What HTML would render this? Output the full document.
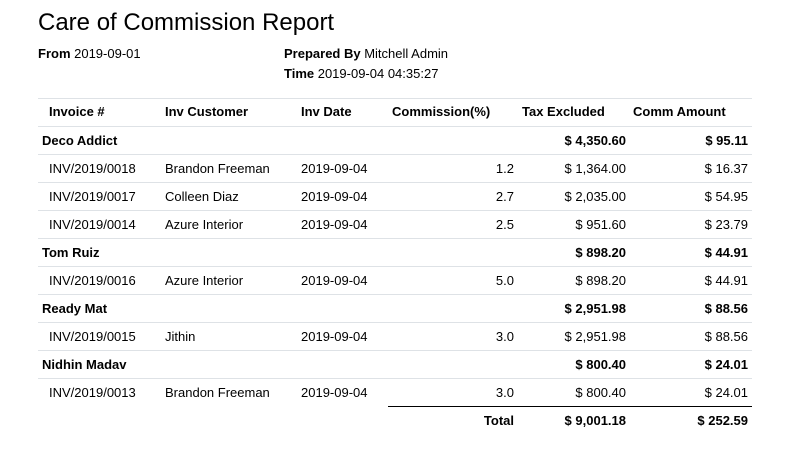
<!DOCTYPE html>
<html><head><meta charset="utf-8"><style>
body{margin:0;width:792px;height:451px;background:#fff;font-family:"Liberation Sans",Arial,sans-serif;color:#000;position:relative;overflow:hidden}
.a{position:absolute;white-space:nowrap;font-size:13px;line-height:16px}
.b{font-weight:bold}
.r{text-align:right}
.ln{position:absolute;left:38px;width:714px;height:1px;background:#dee2e6}
</style></head><body>
<div class="a" style="left:38px;top:9px;font-size:24px;line-height:28px">Care of Commission Report</div>
<div class="a" style="left:38px;top:46px"><b>From</b> 2019-09-01</div>
<div class="a" style="left:284px;top:46px"><b>Prepared By</b> Mitchell Admin</div>
<div class="a" style="left:284px;top:66px"><b>Time</b> 2019-09-04 04:35:27</div>
<div id="tbl"></div>
<script>
const rows=[
["h","Invoice #","Inv Customer","Inv Date","Commission(%)","Tax Excluded","Comm Amount"],
["g","Deco Addict","","","","$ 4,350.60","$ 95.11"],
["d","INV/2019/0018","Brandon Freeman","2019-09-04","1.2","$ 1,364.00","$ 16.37"],
["d","INV/2019/0017","Colleen Diaz","2019-09-04","2.7","$ 2,035.00","$ 54.95"],
["d","INV/2019/0014","Azure Interior","2019-09-04","2.5","$ 951.60","$ 23.79"],
["g","Tom Ruiz","","","","$ 898.20","$ 44.91"],
["d","INV/2019/0016","Azure Interior","2019-09-04","5.0","$ 898.20","$ 44.91"],
["g","Ready Mat","","","","$ 2,951.98","$ 88.56"],
["d","INV/2019/0015","Jithin","2019-09-04","3.0","$ 2,951.98","$ 88.56"],
["g","Nidhin Madav","","","","$ 800.40","$ 24.01"],
["d","INV/2019/0013","Brandon Freeman","2019-09-04","3.0","$ 800.40","$ 24.01"],
["t","","","","Total","$ 9,001.18","$ 252.59"]];
const t=document.getElementById('tbl');
function add(cls,txt,style,name){const e=document.createElement('div');e.className='a '+cls;e.textContent=txt;e.style.cssText=style;


t.appendChild(e);}
function line(y,style){const e=document.createElement('div');e.className='ln';e.style.cssText='top:'+y+'px;'+(style||'');


t.appendChild(e);}
line(98);
rows.forEach((r,i)=>{
 const y=(i==0?99:127+(i-1)*28);
 const top=y+(i==0?5:6);
 const b=r[0]=='d'?'':'b';
 if(r[0]=='h'){
  add('b',r[1],'left:49px;top:'+top+'px','header-invoice');
  add('b',r[2],'left:165px;top:'+top+'px','header-customer');
  add('b',r[3],'left:301px;top:'+top+'px','header-date');
  add('b',r[4],'left:392px;top:'+top+'px','header-commission');
  add('b',r[5],'left:522px;top:'+top+'px','header-tax-excluded');
  add('b',r[6],'left:633px;top:'+top+'px','header-comm-amount');
 }else{
  if(r[0]=='g')add('b',r[1],'left:42px;top:'+top+'px','group-name');
  if(r[0]=='d'){add('',r[1],'left:49px;top:'+top+'px','invoice-number');
   add('',r[2],'left:165px;top:'+top+'px','customer');
   add('',r[3],'left:301px;top:'+top+'px','invoice-date');}
  if(r[4])add(b+' r',r[4],'right:'+(792-514)+'px;top:'+top+'px','commission-pct');
  add(b+' r',r[5],'right:'+(792-626)+'px;top:'+top+'px','tax-excluded');
  add(b+' r',r[6],'right:'+(792-748)+'px;top:'+top+'px','comm-amount');
 }
 if(r[0]!='t'){
  const ny=(i==0?126:127+i*28-1);
  if(i==rows.length-2)line(ny,'left:388px;width:364px;background:#000;height:1px');
  else line(ny);
 }
});
</script>
</body></html>
